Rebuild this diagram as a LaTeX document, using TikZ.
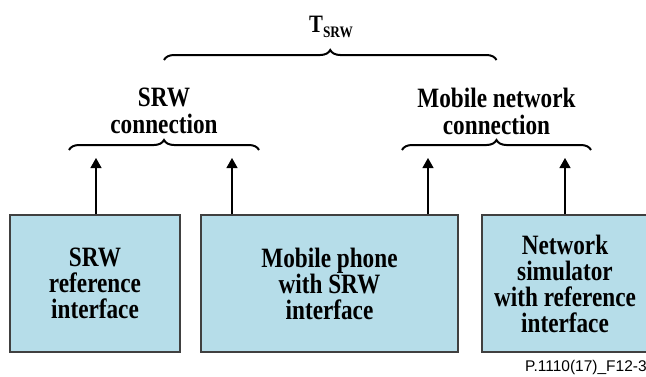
\documentclass[tikz,border=0pt]{standalone}
\usepackage{fontspec}
\setmainfont{Liberation Serif}[FakeStretch=0.83]
\setsansfont{Liberation Sans}
\usetikzlibrary{decorations.pathreplacing,arrows.meta}
\definecolor{boxblue}{RGB}{182,221,233}
\begin{document}
\begin{tikzpicture}[x=1pt,y=-1pt,
  unit/.style={draw=black!75, line width=1.4pt, fill=boxblue, minimum height=137pt,
    align=center, inner sep=0pt, font=\bfseries\fontsize{28}{26}\selectfont},
  lbl/.style={align=center, inner sep=0pt, font=\bfseries\fontsize{28}{27}\selectfont},
  brc/.style={decorate, decoration={brace, amplitude=10pt}, line width=2pt},
  up/.style={-{Triangle[width=11pt,length=10pt]}, line width=1.3pt}]
\useasboundingbox (0,0) rectangle (646,376);
\clip (0,0) rectangle (646,376);

% functional blocks
\node[unit, minimum width=170pt] (b1) at (95,283.5) {SRW\\reference\\interface};
\node[unit, minimum width=257pt] (b2) at (329.5,283.5) {Mobile phone\\with SRW\\interface};
\node[unit, minimum width=166pt] (b3) at (565,283.5) {Network\\simulator\\with reference\\interface};

% measurement points
\coordinate (t1) at (96,158);
\coordinate (t2) at (232,158);
\coordinate (t3) at (428,158);
\coordinate (t4) at (565,158);
\draw[up] (b1.north -| t1) -- (t1);
\draw[up] (b2.north -| t2) -- (t2);
\draw[up] (b2.north -| t3) -- (t3);
\draw[up] (b3.north -| t4) -- (t4);

% connection braces
\coordinate (sa) at (69,150);
\coordinate (sb) at (259,150);
\coordinate (ma) at (402,150);
\coordinate (mb) at (591,150);
\coordinate (ta) at (164,60);
\coordinate (tb) at (496.5,60);
\draw[brc] (sa) -- (sb);
\draw[brc] (ma) -- (mb);
\draw[brc] (ta) -- (tb);

\node[lbl] (srw) at (164,111) {SRW\\connection};
\node[lbl] (mob) at (496.5,111) {Mobile network\\connection};
\node[lbl, font=\bfseries\fontsize{25}{25}\selectfont] (tot) at (331,27)
  {T\raisebox{-5pt}{\fontsize{16}{16}\selectfont SRW}};

\node[anchor=base west, inner sep=0pt, font=\sffamily\fontsize{15.5}{15.5}\selectfont] (ref) at (525,371) {P.1110(17)\_F12-3};
\end{tikzpicture}
\end{document}
